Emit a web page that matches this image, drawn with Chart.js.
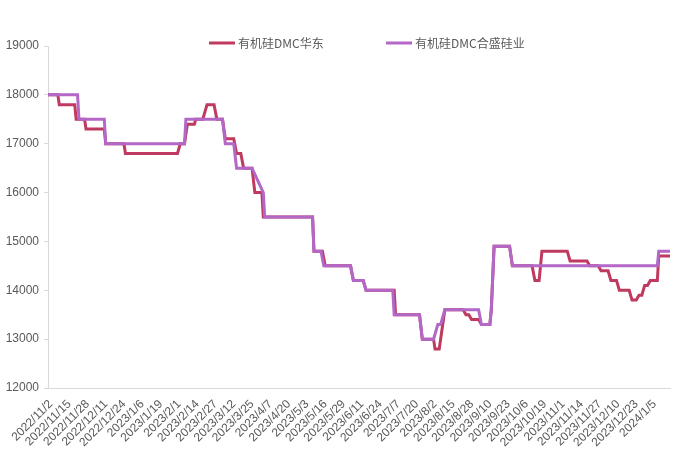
<!DOCTYPE html>
<html><head><meta charset="utf-8">
<script src="https://cdn.jsdelivr.net/npm/chart.js@4.4.1/dist/chart.umd.min.js"></script>
<style>html,body{margin:0;padding:0;background:#fff;}#wrap{width:678px;height:457px;position:relative;}</style>
</head><body><div id="wrap"><canvas id="c" width="678" height="457"></canvas></div>
<script>
const startDate = '2022/11/2';
const endDate = '2024/1/18';
const tickLabels = ['2022/11/2','2022/11/15','2022/11/28','2022/12/11','2022/12/24','2023/1/6','2023/1/19','2023/2/1','2023/2/14','2023/2/27','2023/3/12','2023/3/25','2023/4/7','2023/4/20','2023/5/3','2023/5/16','2023/5/29','2023/6/11','2023/6/24','2023/7/7','2023/7/20','2023/8/2','2023/8/15','2023/8/28','2023/9/10','2023/9/23','2023/10/6','2023/10/19','2023/11/1','2023/11/14','2023/11/27','2023/12/10','2023/12/23','2024/1/5'];
const yTicks = [12000,13000,14000,15000,16000,17000,18000,19000];
const seriesNames = ['有机硅DMC华东','有机硅DMC合盛硅业'];

const huadongDates = ['2022/11/2','2022/11/9','2022/11/10','2022/11/21','2022/11/22','2022/11/28','2022/11/29','2022/12/12','2022/12/13','2022/12/26','2022/12/27','2023/2/2','2023/2/4','2023/2/7','2023/2/9','2023/2/14','2023/2/15','2023/2/20','2023/2/23','2023/2/28','2023/3/2','2023/3/6','2023/3/8','2023/3/14','2023/3/16','2023/3/19','2023/3/21','2023/3/27','2023/3/29','2023/4/3','2023/4/4','2023/5/9','2023/5/10','2023/5/16','2023/5/18','2023/6/5','2023/6/7','2023/6/14','2023/6/16','2023/7/6','2023/7/7','2023/7/24','2023/7/26','2023/8/3','2023/8/4','2023/8/7','2023/8/11','2023/8/24','2023/8/26','2023/8/28','2023/8/30','2023/9/4','2023/9/6','2023/9/12','2023/9/13','2023/9/15','2023/9/26','2023/9/28','2023/10/12','2023/10/14','2023/10/17','2023/10/19','2023/11/6','2023/11/8','2023/11/20','2023/11/22','2023/11/28','2023/11/30','2023/12/5','2023/12/7','2023/12/11','2023/12/13','2023/12/20','2023/12/22','2023/12/25','2023/12/27','2023/12/29','2023/12/31','2024/1/2','2024/1/4','2024/1/9','2024/1/10','2024/1/18'];
const huadongValues = [18000,18000,17800,17800,17500,17500,17300,17300,17000,17000,16800,16800,17000,17000,17400,17400,17500,17500,17800,17800,17500,17500,17100,17100,16800,16800,16500,16500,16000,16000,15500,15500,14800,14800,14500,14500,14200,14200,14000,14000,13500,13500,13000,13000,12800,12800,13600,13600,13500,13500,13400,13400,13300,13300,13600,14900,14900,14500,14500,14200,14200,14800,14800,14600,14600,14500,14500,14400,14400,14200,14200,14000,14000,13800,13800,13900,13900,14100,14100,14200,14200,14700,14700];

const heshengDates = ['2022/11/2','2022/11/23','2022/11/24','2022/12/12','2022/12/13','2023/2/7','2023/2/8','2023/3/6','2023/3/8','2023/3/14','2023/3/16','2023/3/27','2023/4/4','2023/4/5','2023/5/9','2023/5/10','2023/5/15','2023/5/17','2023/6/5','2023/6/7','2023/6/14','2023/6/16','2023/7/5','2023/7/6','2023/7/24','2023/7/26','2023/8/3','2023/8/6','2023/8/8','2023/8/11','2023/9/4','2023/9/6','2023/9/12','2023/9/13','2023/9/15','2023/9/26','2023/9/28','2024/1/9','2024/1/10','2024/1/18'];
const heshengValues = [18000,18000,17500,17500,17000,17000,17500,17500,17000,17000,16500,16500,16000,15500,15500,14800,14800,14500,14500,14200,14200,14000,14000,13500,13500,13000,13000,13300,13300,13600,13600,13300,13300,13600,14900,14900,14500,14500,14800,14800];

const colors = ['#C0395F','#B367C6'];
const textColor = '#595959';
const axisColor = '#D9D9D9';

function dayOf(s){
  const p = s.split('/').map(Number), q = startDate.split('/').map(Number);
  return Math.round((Date.UTC(p[0],p[1]-1,p[2]) - Date.UTC(q[0],q[1]-1,q[2])) / 86400000);
}
function pts(dates, values){ return dates.map((d,i)=>({x: dayOf(d), y: values[i]})); }

const legendPlugin = {
  id: 'topLegend',
  afterDraw(chart){
    const ctx = chart.ctx;
    const starts = [209, 386];
    const y = 43;
    ctx.save();
    ctx.font = '12px "Noto Sans CJK SC", "Liberation Sans", sans-serif';
    ctx.textBaseline = 'middle';
    ctx.textAlign = 'left';
    chart.data.datasets.forEach((ds, i) => {
      const x0 = starts[i];
      ctx.strokeStyle = ds.borderColor; ctx.lineWidth = 3; ctx.lineCap = 'butt';
      ctx.beginPath(); ctx.moveTo(x0, y); ctx.lineTo(x0 + 26, y); ctx.stroke();
      ctx.fillStyle = textColor;
      ctx.fillText(ds.label, x0 + 29, y);
    });
    ctx.restore();
  }
};

new Chart(document.getElementById('c'), {
  type: 'line',
  data: {
    datasets: [
      { label: seriesNames[0], data: pts(huadongDates, huadongValues), borderColor: colors[0], backgroundColor: colors[0], borderWidth: 3, pointRadius: 0, tension: 0, order: 1 },
      { label: seriesNames[1], data: pts(heshengDates, heshengValues), borderColor: colors[1], backgroundColor: colors[1], borderWidth: 3, pointRadius: 0, tension: 0, order: 0 }
    ]
  },
  options: {
    responsive: false, animation: false, devicePixelRatio: 1,
    layout: { padding: { top: 46, right: 8, left: 0, bottom: 0 } },
    plugins: { legend: { display: false }, tooltip: { enabled: false } },
    scales: {
      x: {
        type: 'linear', min: 0, max: dayOf(endDate),
        afterBuildTicks: s => { s.ticks = tickLabels.map(l => ({ value: dayOf(l) })); },
        afterFit: s => { s.height = 69; },
        grid: { display: false, drawTicks: false },
        border: { display: true, color: axisColor, width: 1 },
        ticks: { autoSkip: false, minRotation: 45, maxRotation: 45, padding: 9, labelOffset: 3, color: textColor,
          font: { family: '"Liberation Sans", sans-serif', size: 12 },
          callback: (v, i) => tickLabels[i] }
      },
      y: {
        min: yTicks[0], max: yTicks[yTicks.length-1],
        afterBuildTicks: s => { s.ticks = yTicks.map(v => ({ value: v })); },
        afterFit: s => { s.width = 48; },
        grid: { drawOnChartArea: false, drawTicks: true, tickLength: 4, color: axisColor },
        border: { display: true, color: axisColor, width: 1 },
        ticks: { padding: 5, color: textColor, font: { family: '"Liberation Sans", sans-serif', size: 12 },
          callback: v => String(v) }
      }
    }
  },
  plugins: [legendPlugin]
});
</script></body></html>
